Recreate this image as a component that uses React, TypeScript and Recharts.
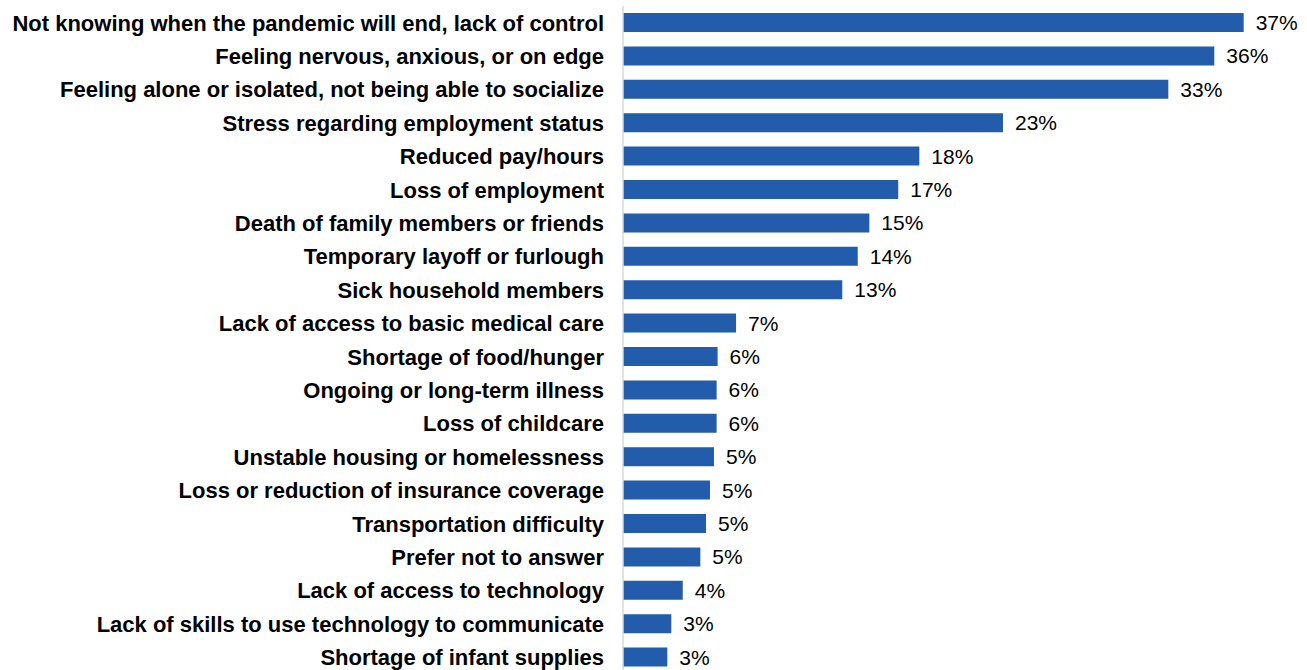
import React from 'react';
import { BarChart, Bar, XAxis, YAxis, LabelList } from 'recharts';

// Stressors, in the order shown (top to bottom)
const categories = [
  'Not knowing when the pandemic will end, lack of control',
  'Feeling nervous, anxious, or on edge',
  'Feeling alone or isolated, not being able to socialize',
  'Stress regarding employment status',
  'Reduced pay/hours',
  'Loss of employment',
  'Death of family members or friends',
  'Temporary layoff or furlough',
  'Sick household members',
  'Lack of access to basic medical care',
  'Shortage of food/hunger',
  'Ongoing or long-term illness',
  'Loss of childcare',
  'Unstable housing or homelessness',
  'Loss or reduction of insurance coverage',
  'Transportation difficulty',
  'Prefer not to answer',
  'Lack of access to technology',
  'Lack of skills to use technology to communicate',
  'Shortage of infant supplies',
];

// Share of respondents (%)
const shares = [
  37.39, 35.62, 32.85, 22.89, 17.85, 16.58, 14.84, 14.14, 13.21, 6.81,
  5.7, 5.64, 5.64, 5.48, 5.24, 5.0, 4.66, 3.6, 2.91, 2.67,
];

const data = categories.map((name, i) => ({ name, value: shares[i] }));

const pct = (v: any) => `${Math.round(Number(v))}%`;

export default function App() {
  return (
    <div style={{ position: 'absolute', left: 0, top: 0, width: 1307, height: 670, overflow: 'hidden', background: '#fff' }}>
      <BarChart
        width={1307}
        height={680}
        data={data}
        layout="vertical"
        margin={{ top: 6, right: 20, bottom: 6, left: 0 }}
      >
        <XAxis type="number" domain={[0, 40]} hide />
        <YAxis
          type="category"
          dataKey="name"
          width={623}
          tickLine={false}
          tickSize={0}
          tickMargin={19}
          interval={0}
          axisLine={{ stroke: '#d9d9d9', strokeWidth: 1.5 }}
          tick={{ fill: '#000', fontSize: 22, fontWeight: 'bold', fontFamily: 'Liberation Sans, Arial, sans-serif' }}
        />
        <Bar dataKey="value" fill="#225CAA" barSize={19} isAnimationActive={false}>
          <LabelList
            dataKey="value"
            position="right"
            offset={12}
            formatter={pct}
            style={{ fill: '#000', fontSize: 21, fontFamily: 'Liberation Sans, Arial, sans-serif' }}
          />
        </Bar>
      </BarChart>
    </div>
  );
}
